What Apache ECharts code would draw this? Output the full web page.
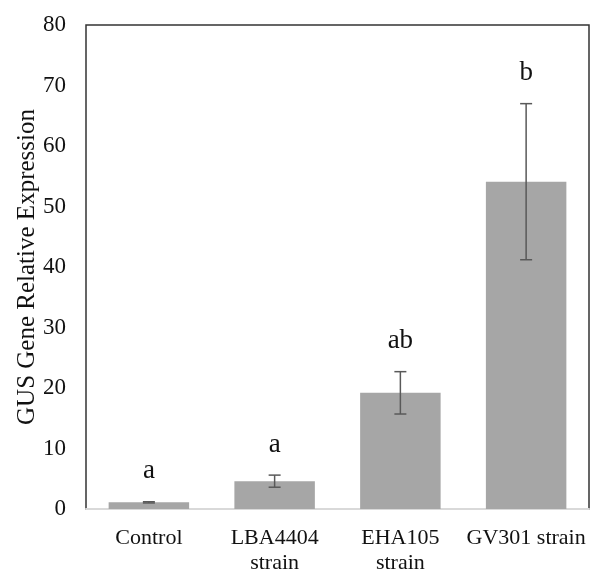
<!DOCTYPE html>
<html>
<head>
<meta charset="utf-8">
<script src="https://cdn.jsdelivr.net/npm/echarts@6/dist/echarts.min.js"></script>
<style>
  html, body { margin: 0; padding: 0; background: #fff; }
  #chart { width: 591px; height: 570px; }
</style>
</head>
<body>
<div id="chart"></div>
<script>
// categories and values
var categories = ['Control', 'LBA4404\nstrain', 'EHA105\nstrain', 'GV301 strain'];
var means = [1.1, 4.6, 19.2, 54.1];
var errors = [0.1, 1.0, 3.5, 12.9];
var letters = ['a', 'a', 'ab', 'b'];
var yTicks = [0, 80, 10]; // min, max, interval

var serif = '"Liberation Serif", "DejaVu Serif", serif';
var chart = echarts.init(document.getElementById('chart'));

// error bar + letter data: [index, mean, err, letter]
var errData = [];
for (var i = 0; i < categories.length; i++) {
    errData.push([i, means[i], errors[i], letters[i]]);
}

var option = {
    backgroundColor: '#fff',
    animation: false,
    grid: {
        left: 86, right: 2, top: 25, bottom: 61,
        outerBoundsMode: 'none',
        show: true,
        borderColor: '#333',
        borderWidth: 1.5,
        backgroundColor: '#fff'
    },
    xAxis: {
        type: 'category',
        data: categories,
        axisLine: { show: true, lineStyle: { color: '#d9d9d9', width: 2 } },
        axisTick: { show: false },
        axisLabel: {
            color: '#111', fontFamily: serif, fontSize: 22,
            margin: 17, lineHeight: 25, interval: 0
        }
    },
    yAxis: {
        type: 'value',
        min: yTicks[0], max: yTicks[1], interval: yTicks[2],
        name: 'GUS Gene Relative Expression',
        nameLocation: 'middle',
        nameGap: 46,
        nameMoveOverlap: false,
        nameTextStyle: { color: '#111', fontFamily: serif, fontSize: 25 },
        axisLine: { show: false },
        axisTick: { show: false },
        splitLine: { show: false },
        axisLabel: { color: '#111', fontFamily: serif, fontSize: 23, margin: 20 }
    },
    series: [
        {
            type: 'bar',
            data: means,
            barWidth: '64%',
            itemStyle: { color: '#a6a6a6' }
        },
        {
            type: 'custom',
            data: errData,
            z: 5,
            renderItem: function (params, api) {
                var idx = api.value(0);
                var m = api.value(1);
                var e = api.value(2);
                var top = api.coord([idx, m + e]);
                var bot = api.coord([idx, m - e]);
                var cap = 6;
                var st = { stroke: '#595959', lineWidth: 1.5 };
                return {
                    type: 'group',
                    children: [
                        { type: 'line', shape: { x1: top[0], y1: top[1], x2: bot[0], y2: bot[1] }, style: st },
                        { type: 'line', shape: { x1: top[0] - cap, y1: top[1], x2: top[0] + cap, y2: top[1] }, style: st },
                        { type: 'line', shape: { x1: bot[0] - cap, y1: bot[1], x2: bot[0] + cap, y2: bot[1] }, style: st },
                        {
                            type: 'text',
                            x: top[0], y: top[1] - 17,
                            style: {
                                text: api.value(3),
                                fill: '#111',
                                font: '27px ' + serif,
                                align: 'center',
                                verticalAlign: 'bottom'
                            }
                        }
                    ]
                };
            }
        }
    ]
};
chart.setOption(option);
</script>
</body>
</html>
